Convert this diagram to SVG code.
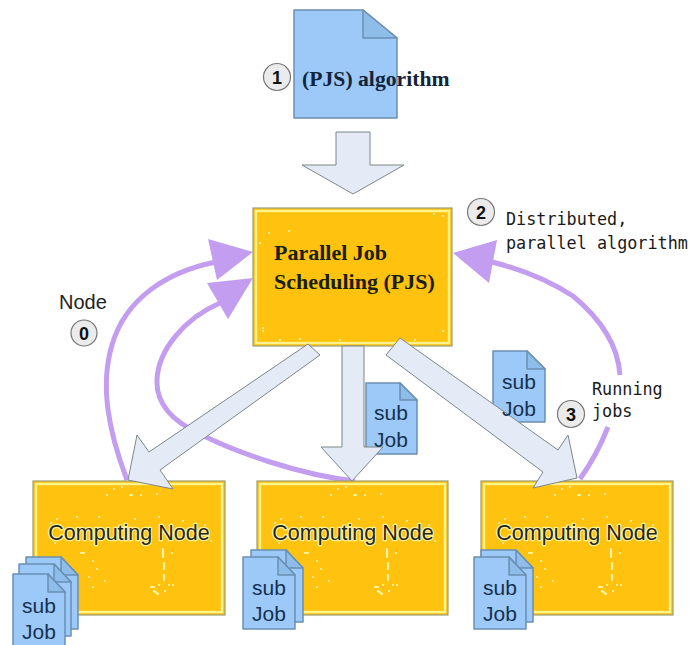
<svg xmlns="http://www.w3.org/2000/svg" width="689" height="645" viewBox="0 0 689 645">
<style>
.doc{fill:#9cc9f8;stroke:#6a8fb3;stroke-width:1.5;stroke-linejoin:round}
.fold{fill:#8fbdea;stroke:#6a8fb3;stroke-width:1.5;stroke-linejoin:round}
.arr{fill:#e4ebf6;stroke:#7d8688;stroke-width:1}
.box{fill:#ffc20e;stroke:#9c9e78;stroke-width:1.2}
.inner{fill:none;stroke:#fff38c;stroke-width:2.4}
.cur{fill:none;stroke:#c39df0;stroke-width:5}
.head{fill:#c39df0}
.circ{fill:#ebebeb;stroke:#777;stroke-width:1.2}
.num{font:bold 18px "Liberation Sans",sans-serif;fill:#111;text-anchor:middle}
.cn{font:21.5px "Liberation Sans",sans-serif;fill:#24261c;text-anchor:middle;stroke:#fff3a0;stroke-width:2.5;paint-order:stroke;stroke-linejoin:round}
.sj{font:21px "Liberation Sans",sans-serif;fill:#16304f;text-anchor:middle}
.ser{font:bold 22px "Liberation Serif",serif;fill:#18200f}
.ser2{font:bold 21.7px "Liberation Serif",serif;fill:#12243c}
.mono{font:16.8px "DejaVu Sans Mono",monospace;fill:#1a1a1a}
.lab{font:20px "Liberation Sans",sans-serif;fill:#222}
.dots{fill:none;stroke:#fff3a0;stroke-width:2.2;stroke-linecap:round}
</style>
<defs>
<g id="sd"><path class="doc" d="M0 0H35L52 18V72H0Z"/><path class="fold" d="M35 0V18H52Z"/></g>
<g id="speck">
<path class="dots" d="M74 14h.1M81 8h.1M89 6h.1M97 14h2M108 14h.1M124 13h.1M18 42h.1M24 38h.1M44 36h.1M66 36h.1M102 38h.1M126 36h.1M150 40h.1M172 44h.1M178 60h.1M22 62h.1M48 72h3M60 80h.1M64 88h.1M72 100h.1M130 68v8M131 82v6M131 94v5M139 72h.1M136 104h.1M118 106h3M121 110l4 3M126 104h.1M132 110h.1M140 104h.1M56 96h.1M60 106h.1"/>
</g>
</defs>
<g id="connectors">
<path class="cur" d="M127 480C108 430 100 385 112 345C125 300 165 272 216 262"/>
<path class="head" d="M253 252L208 239L217 280Z"/>
<path class="cur" d="M355 481C300 475 235 452 200 434C170 420 156 402 157 380C158 350 185 318 220 303"/>
<path class="head" d="M253 278L207 283L228 319Z"/>
<path class="cur" d="M580 479Q597 455 608 427M620 375C618 345 602 320 573 296C545 278 520 269 492 262"/>
<path class="head" d="M453 253L497 240L489 283Z"/>
</g>
<g id="node-algorithm">
<path class="doc" d="M294 10H363L397 38V118H294Z"/><path class="fold" d="M363 10V38H397Z"/>
<text class="ser2" x="302" y="86">(PJS) algorithm</text>
</g>
<g id="badge-1"><circle class="circ" cx="277" cy="77" r="13.5"/><text class="num" x="277" y="83.500">1</text></g>
<path class="arr" id="arrow-top" d="M336 132H370V165H404L353 194L302 165H336Z"/>
<g id="node-pjs">
<rect class="box" x="253" y="208" width="199" height="138"/>
<rect class="inner" x="256" y="211" width="193" height="132"/>
<path class="dots" d="M269 233h.1M289 231h.1M260 243h.1M434 214h.1M443 216h.1M263 331h.1M263 328h.1M443 331h.1M280 340h.1M300 339h.1M340 340h.1M415 340h.1"/>
<text class="ser" x="274" y="260">Parallel Job</text>
<text class="ser" x="274" y="289">Scheduling (PJS)</text>
</g>
<g id="node-c1">
<rect class="box" x="33" y="481" width="192" height="134"/>
<rect class="inner" x="36" y="484" width="186" height="128"/>
<use href="#speck" x="33" y="481"/>
<text class="cn" x="129" y="540">Computing Node</text>
</g>
<g id="node-c2">
<rect class="box" x="257" y="481" width="191" height="134"/>
<rect class="inner" x="260" y="484" width="185" height="128"/>
<use href="#speck" x="257" y="481"/>
<text class="cn" x="353" y="540">Computing Node</text>
</g>
<g id="node-c3">
<rect class="box" x="481" y="481" width="192" height="134"/>
<rect class="inner" x="484" y="484" width="186" height="128"/>
<use href="#speck" x="481" y="481"/>
<text class="cn" x="577" y="540">Computing Node</text>
</g>
<g id="subjob-mid-doc"><path class="doc" d="M366 383H400L417 400V454H366Z"/><path class="fold" d="M400 383V400H417Z"/></g>
<g id="subjob-right-doc"><path class="doc" d="M493 351H527L545 369V422H493Z"/><path class="fold" d="M527 351V369H545Z"/></g>
<g id="arrows">
<path class="arr" d="M308 344L320 355L160 470L173 489L128 480L137 435L149 452Z"/>
<path class="arr" d="M342 346H364V447H383L352 481L321 447H342Z"/>
<path class="arr" d="M400 338L558 450L568 435L577 478L533 488L543 472L386 355Z"/>
</g>
<g id="subjob-mid"><text class="sj" x="391" y="420">sub</text><text class="sj" x="391" y="447">Job</text></g>
<g id="subjob-right"><text class="sj" x="519" y="389">sub</text><text class="sj" x="519" y="416">Job</text></g>
<g id="stack-1">
<use href="#sd" transform="translate(26 557)"/><use href="#sd" transform="translate(19 564)"/><use href="#sd" transform="translate(13 574)"/>
<text class="sj" x="39" y="613">sub</text><text class="sj" x="39" y="639">Job</text>
</g>
<g id="stack-2">
<use href="#sd" transform="translate(251 550)"/><use href="#sd" transform="translate(243 557)"/>
<text class="sj" x="269" y="595">sub</text><text class="sj" x="269" y="621">Job</text>
</g>
<g id="stack-3">
<use href="#sd" transform="translate(481 550)"/><use href="#sd" transform="translate(474 557)"/>
<text class="sj" x="500" y="595">sub</text><text class="sj" x="500" y="621">Job</text>
</g>
<g id="badge-0"><circle class="circ" cx="84" cy="333" r="13"/><text class="num" x="84" y="339.500">0</text></g>
<text class="lab" x="59" y="309">Node</text>
<g id="badge-2"><circle class="circ" cx="481" cy="212" r="13.500"/><text class="num" x="481" y="218.500">2</text></g>
<text class="mono" x="506" y="225">Distributed,</text>
<text class="mono" x="506" y="249">parallel algorithm</text>
<g id="badge-3"><circle class="circ" cx="571" cy="414" r="13.500"/><text class="num" x="571" y="420.500">3</text></g>
<text class="mono" x="592" y="395">Running</text>
<text class="mono" x="592" y="417">jobs</text>
</svg>
